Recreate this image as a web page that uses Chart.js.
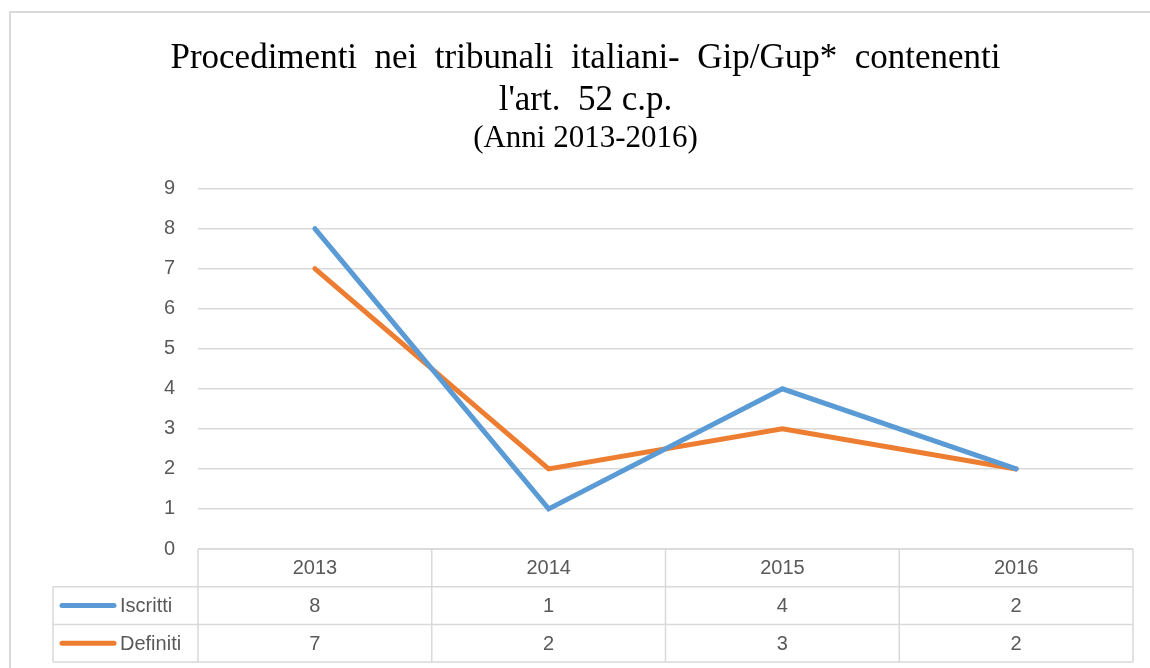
<!DOCTYPE html>
<html>
<head>
<meta charset="utf-8">
<script src="https://cdn.jsdelivr.net/npm/chart.js@4"></script>
<style>
  body { margin: 0; background: #fff; }
  #wrap { width: 1150px; height: 668px; }
</style>
</head>
<body>
<div id="wrap"><canvas id="myChart" width="1150" height="668"></canvas></div>
<script>
const years = ['2013', '2014', '2015', '2016'];
const iscritti = [8, 1, 4, 2];
const definiti = [7, 2, 3, 2];
const seriesNames = ['Iscritti', 'Definiti'];
const titleLines = ['Procedimenti  nei  tribunali  italiani-  Gip/Gup*  contenenti', "l'art.  52 c.p."];
const subtitleText = '(Anni 2013-2016)';

const gridColor = '#d9d9d9';
const textColor = '#595959';
const sansFont = '"Liberation Sans", Arial, sans-serif';

// outer frame + data table under the plot
const tablePlugin = {
    id: 'dataTable',
    beforeDraw(chart) {
        const ctx = chart.ctx;
        ctx.save();
        ctx.strokeStyle = gridColor;
        ctx.lineWidth = 2;
        ctx.strokeRect(10, 12, 1160, 700);
        ctx.restore();
    },
    afterDraw(chart) {
        const ctx = chart.ctx;
        const area = chart.chartArea;
        const x = chart.scales.x;
        const top = area.bottom;
        const rowH = 37.7;
        const left = 53;
        const rows = [top, top + rowH, top + rowH * 2, top + rowH * 3];
        const colW = (area.right - area.left) / years.length;

        ctx.save();
        ctx.strokeStyle = gridColor;
        ctx.lineWidth = 1.5;
        ctx.beginPath();
        // horizontal lines
        ctx.moveTo(area.left, rows[0]); ctx.lineTo(area.right, rows[0]);
        for (let r = 1; r < rows.length; r++) {
            ctx.moveTo(left, rows[r]); ctx.lineTo(area.right, rows[r]);
        }
        // vertical lines
        ctx.moveTo(left, rows[1]); ctx.lineTo(left, rows[3]);
        for (let c = 0; c <= years.length; c++) {
            const cx = area.left + c * colW;
            ctx.moveTo(cx, rows[0]); ctx.lineTo(cx, rows[3]);
        }
        ctx.stroke();

        ctx.font = '20px ' + sansFont;
        ctx.fillStyle = textColor;
        ctx.textAlign = 'center';
        ctx.textBaseline = 'middle';
        years.forEach((y, i) => {
            const cx = x.getPixelForValue(i);
            ctx.fillText(y, cx, (rows[0] + rows[1]) / 2 + 1);
            ctx.fillText(String(iscritti[i]), cx, (rows[1] + rows[2]) / 2 + 1);
            ctx.fillText(String(definiti[i]), cx, (rows[2] + rows[3]) / 2 + 1);
        });

        // legend keys inside the table
        chart.data.datasets.forEach((ds, i) => {
            const cy = (rows[i + 1] + rows[i + 2]) / 2;
            ctx.strokeStyle = ds.borderColor;
            ctx.lineWidth = 5;
            ctx.lineCap = 'round';
            ctx.beginPath();
            ctx.moveTo(62, cy);
            ctx.lineTo(114, cy);
            ctx.stroke();
            ctx.textAlign = 'left';
            ctx.fillText(seriesNames[i], 120, cy + 1);
        });
        ctx.restore();
    }
};

const ctx = document.getElementById('myChart').getContext('2d');
const chart = new Chart(ctx, {
    type: 'line',
    data: {
        labels: years,
        datasets: [{
            label: seriesNames[0],
            data: iscritti,
            borderColor: '#5B9BD5',
            borderWidth: 5,
            borderCapStyle: 'round',
            pointRadius: 0,
            tension: 0
        }, {
            label: seriesNames[1],
            data: definiti,
            borderColor: '#ED7D31',
            borderWidth: 5,
            borderCapStyle: 'round',
            pointRadius: 0,
            tension: 0
        }]
    },
    options: {
        responsive: false,
        animation: false,
        layout: {
            padding: { left: 38, right: 17, top: 0, bottom: 119 }
        },
        plugins: {
            legend: { display: false },
            tooltip: { enabled: false },
            title: {
                display: true,
                text: titleLines,
                color: '#000',
                font: { family: '"Liberation Serif", "Times New Roman", serif', size: 35, weight: 'normal', lineHeight: 1.22 },
                padding: { top: 37, bottom: 0 }
            },
            subtitle: {
                display: true,
                text: subtitleText,
                color: '#000',
                font: { family: '"Liberation Serif", "Times New Roman", serif', size: 31, weight: 'normal', lineHeight: 1.2 },
                padding: { top: -2, bottom: 31 }
            }
        },
        scales: {
            x: {
                display: false,
                offset: true
            },
            y: {
                min: 0,
                max: 9,
                ticks: {
                    stepSize: 1,
                    color: textColor,
                    padding: 23,
                    font: { family: sansFont, size: 20 }
                },
                grid: {
                    color: gridColor,
                    lineWidth: 1.5,
                    drawTicks: false
                },
                border: { display: false },
                afterFit(scale) {
                    scale.width = 160;
                }
            }
        }
    },
    plugins: [tablePlugin]
});
</script>
</body>
</html>
